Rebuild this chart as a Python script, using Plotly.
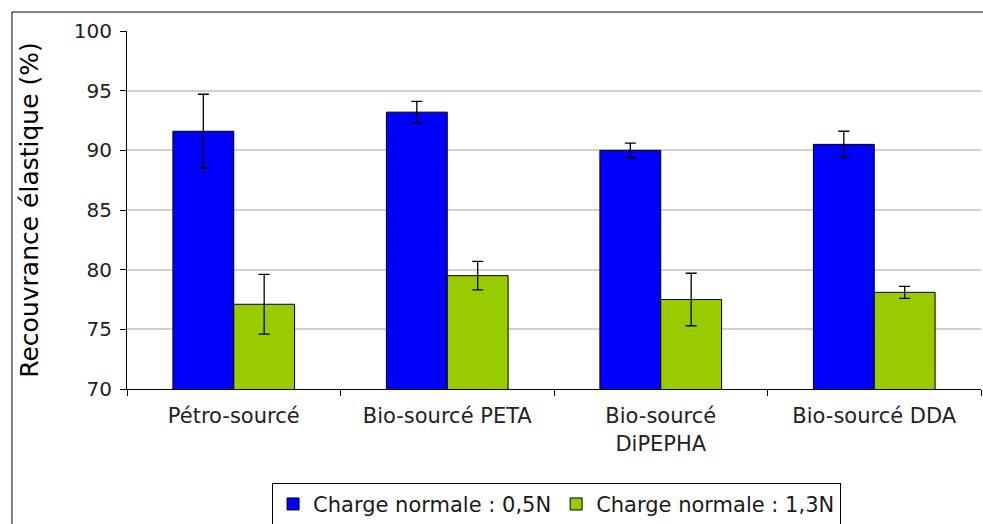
import plotly.graph_objects as go

categories = ["Pétro-sourcé", "Bio-sourcé PETA", "Bio-sourcé<br>DiPEPHA", "Bio-sourcé DDA"]
series_names = ["Charge normale : 0,5N", "Charge normale : 1,3N"]
values_05N = [91.6, 93.2, 90.0, 90.5]
errors_05N = [3.1, 0.9, 0.6, 1.1]
values_13N = [77.1, 79.5, 77.5, 78.1]
errors_13N = [2.5, 1.2, 2.2, 0.5]
colors = ["#0000FF", "#99CC00"]
y_ticks = [70, 75, 80, 85, 90, 95, 100]

FONT = "DejaVu Sans, Verdana, sans-serif"

fig = go.Figure()
for name, vals, errs, col in [
    (series_names[0], values_05N, errors_05N, colors[0]),
    (series_names[1], values_13N, errors_13N, colors[1]),
]:
    fig.add_trace(go.Bar(
        x=categories, y=vals, name=name,
        marker=dict(color=col, line=dict(color="black", width=1)),
        error_y=dict(type="data", array=errs, visible=True, color="black",
                     thickness=1.3, width=5.5),
    ))

fig.update_layout(
    width=983, height=524,
    barmode="group", bargap=0.43, bargroupgap=0,
    plot_bgcolor="white", paper_bgcolor="white",
    margin=dict(l=127, r=2, t=31, b=135, autoexpand=False),
    font=dict(family=FONT, size=19, color="black"),
    showlegend=True,
    legend=dict(orientation="h", x=0.503, y=-0.262, xanchor="center", yanchor="top",
                bordercolor="black", borderwidth=1, font=dict(size=21, color="#1a1a1a"),
                itemwidth=30, tracegroupgap=0),
    shapes=[dict(type="rect", xref="paper", yref="paper",
                 x0=-0.1347, x1=1.2, y0=-0.5, y1=1.053,
                 line=dict(color="black", width=1), layer="below")],
)
fig.update_yaxes(range=[70, 100], tickvals=y_ticks, showgrid=True,
                 gridcolor="#D0D0D0", gridwidth=1.5, showline=True, linecolor="black",
                 ticks="outside", ticklen=6, tickcolor="black", automargin=False,
                 ticklabelstandoff=4,
                 tickfont=dict(size=20, color="#222222"),
                 title=dict(text="Recouvrance élastique (%)", font=dict(size=25), standoff=28),
                 zeroline=False)
fig.update_xaxes(showline=True, linecolor="black", ticks="outside", tickson="boundaries",
                 ticklen=6, tickcolor="black", automargin=False, ticklabelstandoff=8,
                 tickfont=dict(size=21, color="#222222"))

fig.write_html("out.html", config={"displayModeBar": False},
               post_script="document.body.style.margin='0';document.body.style.overflow='hidden';")
